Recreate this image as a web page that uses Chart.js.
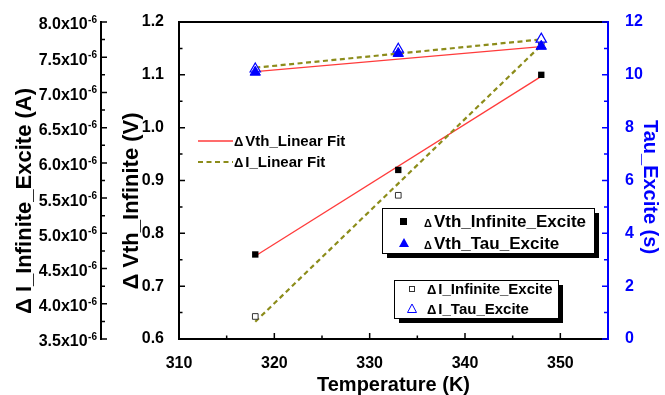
<!DOCTYPE html>
<html><head><meta charset="utf-8">
<script src="https://cdn.jsdelivr.net/npm/chart.js@4.4.0/dist/chart.umd.min.js"></script>
<style>html,body{margin:0;padding:0;background:#fff}canvas{display:block}</style>
</head><body>
<canvas id="c" width="665" height="395"></canvas>
<script>
// ---- data ----
const temperatures = [318, 333, 348];
const vthInfinite = [0.76, 0.92, 1.10];          // V  (left inner axis)
const iInfinite = [3.82e-6, 5.54e-6, 7.72e-6];   // A  (left outer axis)
const vthTau = [10.10, 10.81, 11.08];            // s  (right axis)
const iTau = [10.22, 10.97, 11.35];              // s  (right axis)
const fitTemps = [318, 348];
const vthFit = [0.757, 1.097];
const iFit = [3.745e-6, 7.67e-6];
const vthTauFit = [10.12, 11.07];
const iTauFit = [10.27, 11.34];
// ---- tick labels ----
const xTicks = [310, 320, 330, 340, 350];
const vTicks = [0.6, 0.7, 0.8, 0.9, 1.0, 1.1, 1.2];
const iTickMantissas = [3.5, 4.0, 4.5, 5.0, 5.5, 6.0, 6.5, 7.0, 7.5, 8.0];
const iTickExponent = -6;
const tauTicks = [0, 2, 4, 6, 8, 10, 12];

const FAM = '"Liberation Sans", Arial, sans-serif';
const BLUE = '#0000ff';
const RED = '#ff3b3b';
const OLIVE = '#8c8c1a';

const pts = (xs, ys) => xs.map((x, i) => ({x: x, y: ys[i]}));
const setTicks = arr => s => { s.ticks = arr.map(v => ({value: v})); };

const deco = {
  id: 'deco',
  afterDraw(chart) {
    const ctx = chart.ctx, a = chart.chartArea;
    const sx = chart.scales.x, sv = chart.scales.yV, si = chart.scales.yI, st = chart.scales.yT;
    const mids = arr => arr.slice(1).map((v, i) => (v + arr[i]) / 2);
    ctx.save();
    ctx.lineCap = 'butt';
    // frame
    ctx.lineWidth = 2;
    ctx.strokeStyle = '#000';
    ctx.beginPath();
    ctx.moveTo(a.left, a.top); ctx.lineTo(a.right, a.top);
    ctx.moveTo(a.left, a.top - 1); ctx.lineTo(a.left, a.bottom + 1);
    ctx.moveTo(a.left, a.bottom); ctx.lineTo(a.right, a.bottom);
    ctx.stroke();
    // x ticks
    ctx.lineWidth = 1.5;
    ctx.beginPath();
    xTicks.forEach(v => { const p = sx.getPixelForValue(v); ctx.moveTo(p, a.bottom); ctx.lineTo(p, a.bottom - 6); });
    mids(xTicks).forEach(v => { const p = sx.getPixelForValue(v); ctx.moveTo(p, a.bottom); ctx.lineTo(p, a.bottom - 3.5); });
    // Vth ticks
    vTicks.forEach(v => { const p = sv.getPixelForValue(v); ctx.moveTo(a.left, p); ctx.lineTo(a.left + 6, p); });
    mids(vTicks).forEach(v => { const p = sv.getPixelForValue(v); ctx.moveTo(a.left, p); ctx.lineTo(a.left + 3.5, p); });
    ctx.stroke();
    // outer I axis
    const ix = si.right;
    const iVals = iTickMantissas.map(m => m * Math.pow(10, iTickExponent));
    ctx.lineWidth = 2;
    ctx.beginPath();
    ctx.moveTo(ix, si.getPixelForValue(iVals[0]) + 1);
    ctx.lineTo(ix, si.getPixelForValue(iVals[iVals.length - 1]) - 1);
    ctx.stroke();
    ctx.lineWidth = 1.5;
    ctx.beginPath();
    iVals.forEach(v => { const p = si.getPixelForValue(v); ctx.moveTo(ix, p); ctx.lineTo(ix + 6, p); });
    mids(iVals).forEach(v => { const p = si.getPixelForValue(v); ctx.moveTo(ix, p); ctx.lineTo(ix + 4, p); });
    ctx.stroke();
    // outer I labels with superscript
    ctx.fillStyle = '#000';
    ctx.textBaseline = 'middle';
    iTickMantissas.forEach((m, i) => {
      const p = si.getPixelForValue(iVals[i]);
      ctx.font = 'bold 10px ' + FAM;
      const sup = String(iTickExponent);
      const sw = ctx.measureText(sup).width;
      ctx.textAlign = 'right';
      ctx.fillText(sup, ix - 4, p - 2);
      ctx.font = 'bold 16px ' + FAM;
      ctx.fillText(m.toFixed(1) + 'x10', ix - 4 - sw - 0.5, p + 3);
    });
    // right axis (blue)
    ctx.strokeStyle = BLUE;
    ctx.lineWidth = 2;
    ctx.beginPath();
    ctx.moveTo(a.right, a.top - 1); ctx.lineTo(a.right, a.bottom + 1);
    ctx.stroke();
    ctx.lineWidth = 1.5;
    ctx.beginPath();
    tauTicks.forEach(v => { const p = st.getPixelForValue(v); ctx.moveTo(a.right, p); ctx.lineTo(a.right - 6, p); });
    mids(tauTicks).forEach(v => { const p = st.getPixelForValue(v); ctx.moveTo(a.right, p); ctx.lineTo(a.right - 4, p); });
    ctx.stroke();

    // axis titles
    ctx.textAlign = 'center';
    ctx.textBaseline = 'middle';
    ctx.fillStyle = '#000';
    ctx.font = 'bold 20px ' + FAM;
    ctx.fillText('Temperature (K)', (a.left + a.right) / 2, 385);
    ctx.font = 'bold 22px ' + FAM;
    ctx.save(); ctx.translate(25, 201); ctx.rotate(-Math.PI / 2);
    ctx.fillText('\u0394 I_Infinite_Excite (A)', 0, 0); ctx.restore();
    ctx.save(); ctx.translate(132, 201); ctx.rotate(-Math.PI / 2);
    ctx.fillText('\u0394 Vth_Infinite (V)', 0, 0); ctx.restore();
    ctx.fillStyle = BLUE;
    ctx.font = 'bold 20px ' + FAM;
    ctx.save(); ctx.translate(650, 187); ctx.rotate(Math.PI / 2);
    ctx.fillText('Tau_Excite (s)', 0, 0); ctx.restore();

    // legend text helper: small delta + label
    const label = (x, y, txt, size, dsize) => {
      ctx.fillStyle = '#000';
      ctx.textAlign = 'left';
      ctx.textBaseline = 'alphabetic';
      ctx.font = 'bold ' + dsize + 'px ' + FAM;
      ctx.fillText('\u0394', x, y + size * 0.36);
      const dw = ctx.measureText('\u0394').width;
      ctx.font = 'bold ' + size + 'px ' + FAM;
      ctx.fillText(txt, x + dw + 2, y + size * 0.36);
    };
    // legend 1 (fit lines)
    ctx.lineWidth = 1.3; ctx.strokeStyle = RED; ctx.setLineDash([]);
    ctx.beginPath(); ctx.moveTo(198, 141); ctx.lineTo(233, 141); ctx.stroke();
    label(234, 141, 'Vth_Linear Fit', 15, 13);
    ctx.lineWidth = 2.2; ctx.strokeStyle = OLIVE; ctx.setLineDash([5, 3.5]);
    ctx.beginPath(); ctx.moveTo(198, 162); ctx.lineTo(233, 162); ctx.stroke();
    ctx.setLineDash([]);
    label(234, 162, 'I_Linear Fit', 15, 13);

    // boxed legends
    const box = (x, y, w, h) => {
      ctx.fillStyle = '#000';
      ctx.fillRect(x + 5, y + 5, w, h);
      ctx.fillStyle = '#fff';
      ctx.fillRect(x, y, w, h);
      ctx.lineWidth = 1; ctx.strokeStyle = '#000';
      ctx.strokeRect(x + 0.5, y + 0.5, w, h);
    };
    box(382, 208, 212, 45);
    ctx.fillStyle = '#000'; ctx.fillRect(400, 218, 7, 7);
    ctx.fillStyle = BLUE;
    ctx.beginPath(); ctx.moveTo(404, 238); ctx.lineTo(409, 247); ctx.lineTo(399, 247); ctx.closePath(); ctx.fill();
    label(424, 221, 'Vth_Infinite_Excite', 17, 11);
    label(424, 243, 'Vth_Tau_Excite', 17, 11);

    box(394, 280, 164, 38);
    ctx.strokeStyle = '#333'; ctx.lineWidth = 1;
    ctx.strokeRect(409.5, 286.5, 5, 5);
    ctx.strokeStyle = BLUE;
    ctx.beginPath(); ctx.moveTo(412, 304); ctx.lineTo(416.5, 312.5); ctx.lineTo(407.5, 312.5); ctx.closePath(); ctx.stroke();
    label(427, 289, 'I_Infinite_Excite', 15, 13);
    label(427, 309, 'I_Tau_Excite', 15, 13);
    ctx.restore();
  }
};

const tickFont = {family: FAM, size: 16, weight: 'bold'};

new Chart(document.getElementById('c'), {
  type: 'line',
  data: {
    datasets: [
      {label: '\u0394Vth_Tau_Excite', data: pts(temperatures, vthTau), yAxisID: 'yT', showLine: false,
       pointStyle: 'triangle', pointRadius: 6, backgroundColor: BLUE, borderColor: BLUE, borderWidth: 1, order: 0},
      {label: '\u0394Vth_Infinite_Excite', data: pts(temperatures, vthInfinite), yAxisID: 'yV', showLine: false,
       pointStyle: 'rect', pointRadius: 4.5, backgroundColor: '#000', borderColor: '#000', borderWidth: 0, order: 1},
      {label: '\u0394I_Tau_Excite', data: pts(temperatures, iTau), yAxisID: 'yT', showLine: false,
       pointStyle: 'triangle', pointRadius: 6, backgroundColor: '#fff', borderColor: BLUE, borderWidth: 1.2, order: 2},
      {label: '\u0394I_Infinite_Excite', data: pts(temperatures, iInfinite), yAxisID: 'yI', showLine: false,
       pointStyle: 'rect', pointRadius: 4, backgroundColor: '#fff', borderColor: '#333', borderWidth: 1, order: 3},
      {label: '\u0394Vth_Linear Fit', data: pts(fitTemps, vthFit), yAxisID: 'yV', borderColor: RED, borderWidth: 1.3,
       pointRadius: 0, fill: false, order: 6},
      {label: 'Vth tau fit', data: pts(fitTemps, vthTauFit), yAxisID: 'yT', borderColor: RED, borderWidth: 1.3,
       pointRadius: 0, fill: false, order: 6},
      {label: '\u0394I_Linear Fit', data: pts(fitTemps, iFit), yAxisID: 'yI', borderColor: OLIVE, borderWidth: 2.2,
       borderDash: [5, 3.5], pointRadius: 0, fill: false, order: 5},
      {label: 'I tau fit', data: pts(fitTemps, iTauFit), yAxisID: 'yT', borderColor: OLIVE, borderWidth: 2.2,
       borderDash: [5, 3.5], pointRadius: 0, fill: false, order: 5}
    ]
  },
  options: {
    responsive: false,
    animation: false,
    layout: {padding: {top: 22, left: 0, right: 0, bottom: 0}},
    plugins: {legend: {display: false}, tooltip: {enabled: false}},
    scales: {
      x: {type: 'linear', position: 'bottom', min: 310, max: 355,
          afterBuildTicks: setTicks(xTicks), afterFit: s => { s.height = 56; },
          grid: {display: false}, border: {display: false},
          ticks: {font: tickFont, color: '#000', padding: 7, maxRotation: 0, autoSkip: false}},
      yV: {type: 'linear', position: 'left', weight: 1, min: 0.6, max: 1.2,
           afterBuildTicks: setTicks(vTicks), afterFit: s => { s.width = 78; },
           grid: {display: false}, border: {display: false},
           ticks: {font: tickFont, color: '#000', padding: 7, autoSkip: false, callback: v => v.toFixed(1)}},
      yI: {type: 'linear', position: 'left', weight: 2, min: 3.5e-6, max: 8.0e-6,
           afterBuildTicks: setTicks(iTickMantissas.map(m => m * Math.pow(10, iTickExponent))),
           afterFit: s => { s.width = 101; },
           grid: {display: false}, border: {display: false}, ticks: {display: false}},
      yT: {type: 'linear', position: 'right', min: 0, max: 12,
           afterBuildTicks: setTicks(tauTicks), afterFit: s => { s.width = 57; },
           grid: {display: false}, border: {display: false},
           ticks: {font: tickFont, color: BLUE, padding: 9, autoSkip: false}}
    }
  },
  plugins: [deco]
});
</script>
</body></html>
